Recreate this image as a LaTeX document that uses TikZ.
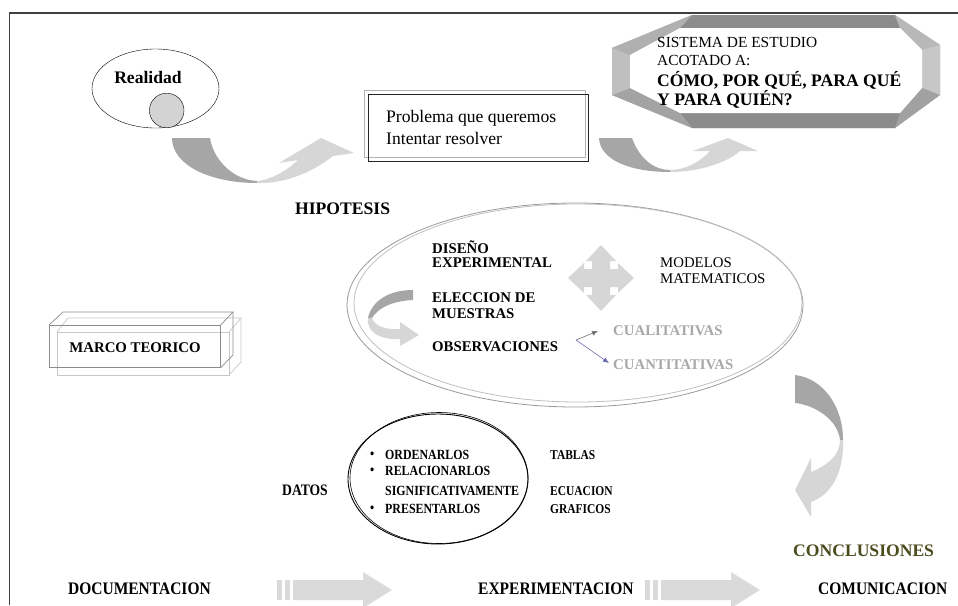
\documentclass[tikz,border=0pt]{standalone}
\usepackage{fontspec}
\setmainfont{Liberation Serif}
\newfontfamily\condA[FakeStretch=0.88]{Liberation Serif}
\newfontfamily\condB[FakeStretch=0.85]{Liberation Serif}
\usetikzlibrary{shapes.geometric,arrows.meta}
\definecolor{arrdark}{HTML}{A6A6A6}
\definecolor{arrlight}{HTML}{D6D6D6}
\definecolor{frameC}{HTML}{404040}
\definecolor{oliveC}{HTML}{4B4B1E}
\definecolor{purpC}{HTML}{6B6BB0}
\definecolor{qgray}{HTML}{A8A8A8}
\definecolor{circC}{HTML}{D3D3D3}
\begin{document}
\begin{tikzpicture}[x=1pt,y=-1pt,
  lbl/.style={inner sep=0pt, anchor=west},
  bigb/.style={lbl, font=\fontsize{17.6}{20}\selectfont\bfseries},
  bigr/.style={lbl, font=\fontsize{17.6}{20}\selectfont},
  botb/.style={lbl, font=\condA\fontsize{17.6}{20}\selectfont\bfseries},
  medb/.style={lbl, font=\fontsize{14.8}{17}\selectfont\bfseries},
  medr/.style={lbl, font=\fontsize{14.8}{17}\selectfont},
  sysr/.style={lbl, font=\fontsize{15.4}{17}\selectfont},
  smb/.style={lbl, font=\condB\fontsize{14}{16}\selectfont\bfseries},
  tinyb/.style={lbl, font=\condB\fontsize{13.5}{15}\selectfont\bfseries},
  darkarr/.style={fill=arrdark, draw=none},
  lightarr/.style={fill=arrlight, draw=none},
  flatarr/.style={fill=arrlight!90!white, draw=none},
]
\useasboundingbox (0,0) rectangle (958,605);

% frame
\coordinate (fBL) at (9.5,605);
\coordinate (fTL) at (9.5,13);
\coordinate (fTR) at (958,13);
\draw[frameC, line width=1.8pt] (fBL) -- (fTL) -- (fTR);

% Realidad
\node[draw, ellipse, minimum width=127pt, minimum height=79pt, inner sep=0pt] (real) at (155.5,88.5) {};
\node[circle, draw, fill=circC, minimum size=34.6pt, inner sep=0pt] (ball) at (166.7,110.5) {};
\node[bigb, anchor=center] (realtxt) at (148,77) {Realidad};

% curved arrow 1
\fill[darkarr] (172,138) -- (210,138) .. controls (214,162) and (235,180) .. (257,181) -- (257,183) .. controls (210,183) and (172,165) .. (172,138) -- cycle;
\fill[lightarr] (257,183) .. controls (290,184) and (318,168) .. (333,156) -- (354,153) -- (321,138) -- (279,163) -- (298,160) .. controls (285,172) and (270,180) .. (257,181) -- cycle;

% problem box
\node[draw=gray!60, line width=0.6pt, minimum width=221pt, minimum height=67pt, inner sep=0pt, anchor=north west] (probsh) at (364,90) {};
\node[draw=black!85, line width=0.9pt, minimum width=220pt, minimum height=67pt, inner sep=0pt, anchor=north west] (prob) at (368,94) {};
\node[bigr] (p1) at (386,118) {Problema que queremos};
\node[bigr] (p2) at (386,138) {Intentar resolver};

% curved arrow 2
\fill[darkarr] (599,138) -- (632,138) .. controls (640,160) and (655,170) .. (670,170) -- (670,172) .. controls (630,172) and (600,160) .. (599,138) -- cycle;
\fill[lightarr] (670,172) .. controls (700,172) and (728,162) .. (740,151) -- (758,151) -- (728,138) -- (693,151) -- (710,151) .. controls (700,162) and (685,170) .. (670,170) -- cycle;

% sistema octagon
\fill[gray!60] (692,15) -- (895,15) -- (940,45) -- (940,95) -- (895,128) -- (692,128) -- (612,95) -- (612,48) -- cycle;
\fill[black!45] (692,15) -- (895,15) -- (900,28) -- (680,28) -- cycle;
\fill[black!28] (895,15) -- (940,45) -- (922,50) -- (900,28) -- cycle;
\fill[black!22] (940,45) -- (940,95) -- (922,88) -- (922,50) -- cycle;
\fill[black!37] (940,95) -- (895,128) -- (900,113) -- (922,88) -- cycle;
\fill[black!45] (895,128) -- (692,128) -- (680,113) -- (900,113) -- cycle;
\fill[black!36] (692,128) -- (612,95) -- (630,88) -- (680,113) -- cycle;
\fill[black!25] (612,95) -- (612,48) -- (630,55) -- (630,88) -- cycle;
\fill[black!31] (612,48) -- (692,15) -- (680,28) -- (630,55) -- cycle;
\fill[white] (680,28) -- (900,28) -- (922,50) -- (922,88) -- (900,113) -- (680,113) -- (630,88) -- (630,55) -- cycle;
\node[sysr] (s1) at (657,42) {SISTEMA DE ESTUDIO};
\node[sysr] (s2) at (657,61) {ACOTADO A:};
\node[bigb] (s3) at (657,80) {CÓMO, POR QUÉ, PARA QUÉ};
\node[bigb] (s4) at (657,99) {Y PARA QUIÉN?};

% hipotesis
\node[bigb] (hip) at (295,209) {HIPOTESIS};

% big ellipse
\draw[black!40, line width=0.8pt] (575,305) ellipse [x radius=228, y radius=102];
\draw[black!25, line width=0.8pt] (578,303) ellipse [x radius=224, y radius=99];
\node[medb] (dis1) at (432,247) {DISEÑO};
\node[medb] (dis2) at (432,263) {EXPERIMENTAL};
\node[medb] (ele1) at (432,298) {ELECCION DE};
\node[medb] (ele2) at (432,314) {MUESTRAS};
\node[medb] (obs) at (432,347) {OBSERVACIONES};
\node[medr] (mod1) at (660,263) {MODELOS};
\node[medr] (mod2) at (660,279) {MATEMATICOS};
\node[medb, text=qgray] (cual) at (613,331) {CUALITATIVAS};
\node[medb, text=qgray] (cuan) at (613,365) {CUANTITATIVAS};
\coordinate (fork) at (576,340);
\coordinate (cualin) at (598,331);
\coordinate (cuanin) at (609,363);
\draw[black!55, line width=0.6pt, -{Latex[length=6pt,width=5pt]}] (fork) -- (cualin);
\draw[purpC, line width=0.6pt, -{Latex[length=6pt,width=5pt]}] (fork) -- (cuanin);

% four-way arrow
\fill[arrlight, shift={(601,278)}] (0,-33) -- (15,-17) -- (9,-17) -- (9,-9) -- (17,-9) -- (17,-15) -- (33,0) -- (17,15) -- (17,9) -- (9,9) -- (9,17) -- (15,17) -- (0,33) -- (-15,17) -- (-9,17) -- (-9,9) -- (-17,9) -- (-17,15) -- (-33,0) -- (-17,-15) -- (-17,-9) -- (-9,-9) -- (-9,-17) -- (-15,-17) -- cycle;

% curved arrow 3 (inside ellipse)
\fill[darkarr] (413,290) -- (413,300) .. controls (392,301) and (378,308) .. (372,318) -- (368,318) .. controls (372,300) and (390,290) .. (413,290) -- cycle;
\fill[lightarr] (368,318) .. controls (366,332) and (380,340) .. (400,339) -- (400,346) -- (419,335) -- (400,322) -- (400,329) .. controls (385,330) and (375,326) .. (372,318) -- cycle;

% marco teorico
\draw[black!22, line width=0.7pt] (57,332) rectangle (229,375);
\draw[black!22, line width=0.7pt] (57,332) -- (68,318) -- (241,318) -- (229,332);
\draw[black!22, line width=0.7pt] (241,318) -- (241,362) -- (229,375);
\node[draw=black!45, line width=0.7pt, minimum width=171pt, minimum height=42pt, inner sep=0pt, anchor=north west] (marcobox) at (49,325) {};
\draw[black!45, line width=0.7pt] (marcobox.north west) -- (63,312) -- (233,312) -- (marcobox.north east);
\draw[black!45, line width=0.7pt] (233,312) -- (233,355) -- (marcobox.south east);
\node[medb, anchor=center] (marco) at (135,348) {MARCO TEORICO};

% curved arrow 4 (right, to conclusiones)
\fill[darkarr] (795,375) -- (795,403) .. controls (815,405) and (838,420) .. (840,440) -- (843,440) .. controls (843,405) and (822,378) .. (795,375) -- cycle;
\fill[lightarr] (843,440) .. controls (844,475) and (830,495) .. (811,502) -- (811,517) -- (795,490) -- (811,458) -- (811,472) .. controls (828,465) and (840,455) .. (840,440) -- cycle;

% datos ellipse
\draw[black, line width=0.9pt] (438,479) ellipse [x radius=90, y radius=65];
\draw[black, line width=0.6pt] (439,478) ellipse [x radius=89, y radius=65.5];
\node[lbl, font=\condB\fontsize{16}{18}\selectfont\bfseries] (datos) at (282,490) {DATOS};
\node[smb] (b1) at (370,455) {\textbullet};
\node[smb] (b2) at (370,471) {\textbullet};
\node[smb] (b3) at (370,509) {\textbullet};
\node[smb] (ord) at (385,455) {ORDENARLOS};
\node[smb] (rel) at (385,471) {RELACIONARLOS};
\node[smb] (sig) at (385,491) {SIGNIFICATIVAMENTE};
\node[smb] (pre) at (385,509) {PRESENTARLOS};
\node[tinyb] (tab) at (550,455) {TABLAS};
\node[tinyb] (ecu) at (550,491) {ECUACION};
\node[tinyb] (gra) at (550,509) {GRAFICOS};

\node[bigb, text=oliveC] (conc) at (793,551) {CONCLUSIONES};

% bottom row
\node[botb] (doc) at (68,589) {DOCUMENTACION};
\node[botb] (exp) at (478,589) {EXPERIMENTACION};
\node[botb] (com) at (818,589) {COMUNICACION};
\foreach \ox/\nm in {277/A, 645/B}{
  \fill[flatarr, shift={(\ox,590)}] (0,-10) rectangle (5,10);
  \fill[flatarr, shift={(\ox,590)}] (8,-10) rectangle (13,10);
  \fill[flatarr, shift={(\ox,590)}] (16,-10) -- (86,-10) -- (86,-18) -- (115,0) -- (86,18) -- (86,10) -- (16,10) -- cycle;
}
\end{tikzpicture}
\end{document}
